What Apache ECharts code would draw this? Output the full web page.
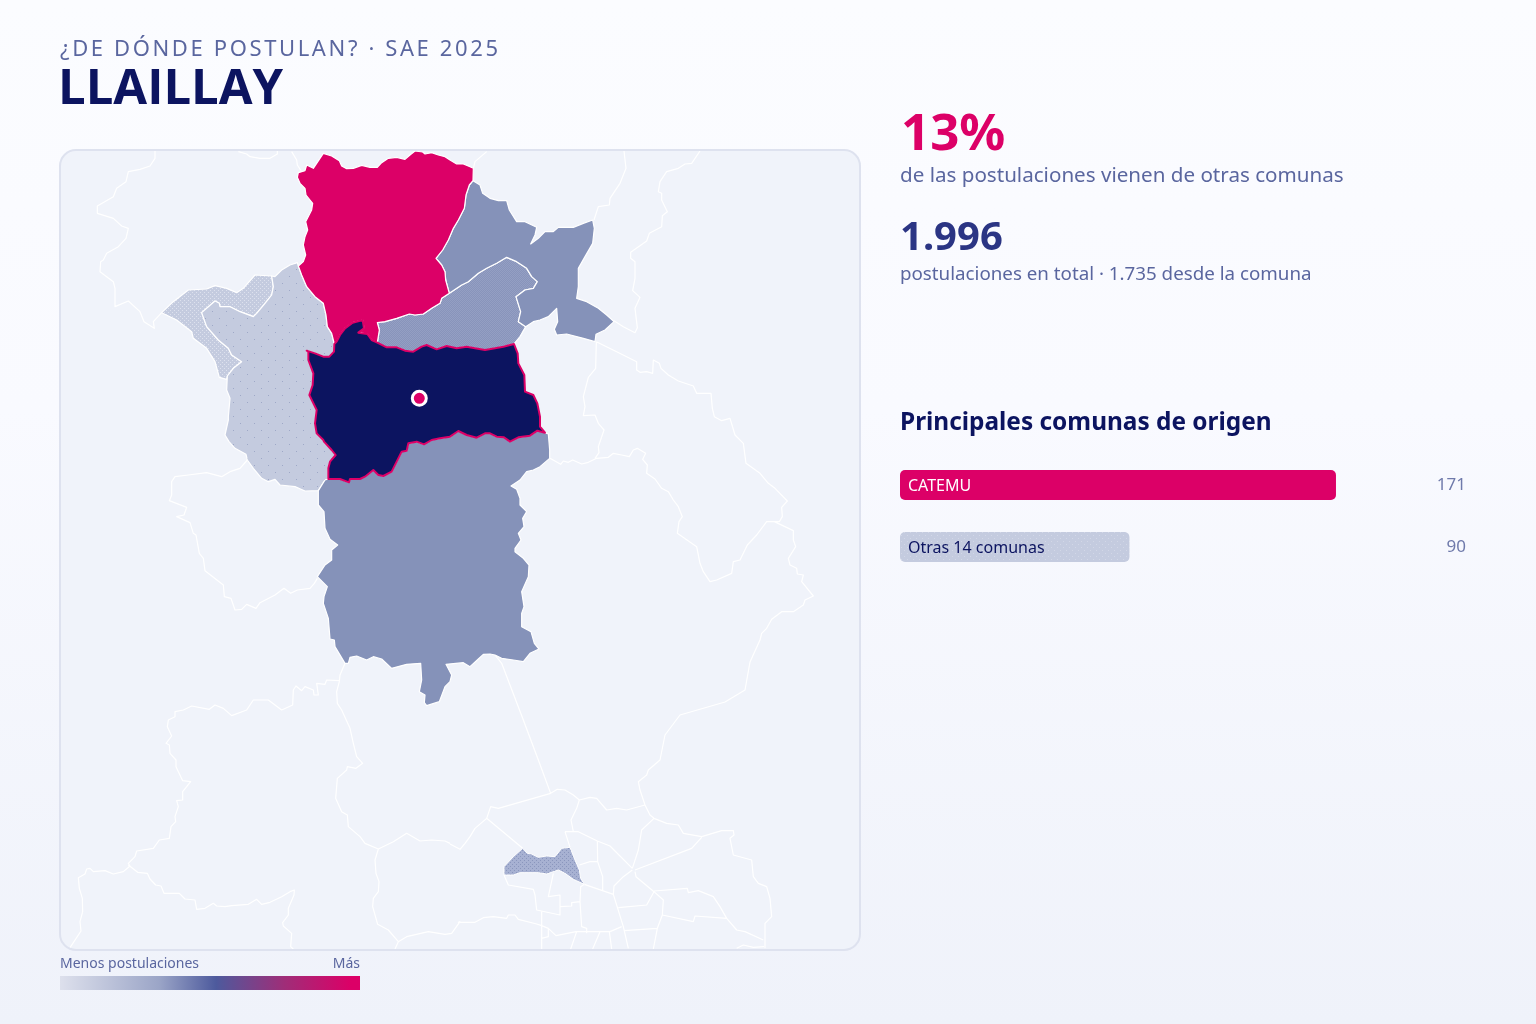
<!DOCTYPE html>
<html lang="es">
<head>
<meta charset="utf-8">
<title>¿De dónde postulan? · Llaillay</title>
<script src="https://cdn.jsdelivr.net/npm/echarts@6/dist/echarts.min.js"></script>
<style>
  html, body { margin: 0; padding: 0; }
  body { width: 1536px; height: 1024px; overflow: hidden; position: relative;
    background: linear-gradient(180deg, #fbfcff 0%, #f9faff 40%, #eff2fa 100%);
    font-family: "Noto Sans", sans-serif; }
  #chart { position: absolute; left: 0; top: 0; width: 1536px; height: 1024px; }
  #kicker { position: absolute; left: 60px; top: 31px; margin: 0; font-size: 22px; line-height: 32px;
    font-weight: 400; letter-spacing: 2.62px; color: #5a669f; white-space: nowrap; }
</style>
</head>
<body>
<div id="chart"></div>
<p id="kicker">¿DE DÓNDE POSTULAN? · SAE 2025</p>
<script>
// bar data
const comunas = ["CATEMU", "Otras 14 comunas"];
const postulaciones = [171, 90];
const llaillayMarker = [419.3, 398.3];

const crop = (ox, oy) => (pts) => pts.map((p) => [ox + p[0] / 3, oy + p[1] / 3]);
const z1 = crop(60, 140), z2 = crop(290, 140), z3 = crop(300, 420), z4 = crop(450, 760);
const z9 = crop(60, 650), z10 = crop(500, 300), z11 = crop(160, 420), z12 = crop(590, 145);
const rev = (pts) => pts.slice().reverse();

const catemuNorth = z2([[100,40],[125,48],[148,62],[155,78],[170,86],[190,85],[215,76],[240,82],[262,82],[275,68],[295,55],[320,52],[345,58],[360,45],[375,33],[398,36],[405,42],[425,38],[445,45],[465,50],[480,60],[500,72],[520,72],[540,80],[550,85]]);
const catemuEast = z2([[550,85],[549,122],[538,135],[528,165],[523,205],[505,240],[490,265],[475,300],[458,330],[438,355],[455,375],[465,395],[467,420],[478,460]]);
const catemuSouth = z2([[478,460],[455,475],[450,490],[425,505],[400,522],[375,525],[358,522],[320,535],[285,545],[262,548],[268,570],[262,608]]);
const llayNotch = z2([[262,608],[245,600],[232,582],[205,578],[222,565],[218,540],[188,548],[165,565],[150,585],[140,605],[133,612]]);
const catemuSouthWest = z2([[25,378],[35,405],[50,440],[75,470],[100,490],[108,525],[112,560],[125,580],[133,612]]);
const catemuWest = z2([[25,378],[40,365],[47,345],[40,315],[45,290],[53,270],[47,245],[65,210],[68,190],[48,165],[45,145],[30,130],[22,112],[25,98],[45,92],[50,75],[70,85],[80,70],[100,40]]);
const llayTopLeft = z2([[133,612],[132,635],[118,650],[100,650],[75,640],[50,632]]);
const llayWest = z1([[745,635],[745,660],[760,700],[758,735],[748,765],[770,810],[765,850],[770,880],[790,900]]).concat(z3([[72,65],[95,90],[107,105],[90,125],[85,145],[85,177]]));
const llaySouth = z3([[85,177],[120,177],[147,187],[150,177],[180,177],[195,170],[220,150],[235,165],[250,168],[275,155],[305,95],[320,92],[325,70],[350,65],[372,73],[395,60],[420,55],[450,50],[475,33],[500,45],[530,53],[555,40],[570,40],[590,50],[612,52],[630,65],[655,52],[690,47],[712,32],[735,38]]);
const llayEast = z2([[765,880],[750,860],[750,830],[742,790],[730,765],[705,755],[703,705],[685,670],[683,640],[672,612]]);
const llayNorth = z2([[672,612],[640,620],[615,625],[585,630],[555,625],[530,620],[500,625],[470,618],[440,628],[410,615],[395,620],[370,635],[345,632],[320,622],[290,622],[262,608]]);
const panqEast = z2([[672,612],[690,590],[707,560]]);
const panqNorth = z2([[707,560],[685,545],[692,515],[678,470],[705,450],[730,445],[742,425],[725,410],[710,385],[680,365],[650,352],[620,370],[590,385],[565,400],[535,425],[515,435],[478,460]]);
const neOuter = z2([[549,122],[570,135],[578,160],[600,175],[625,182],[650,182],[658,210],[680,245],[705,245],[740,262],[735,285],[722,312],[745,295],[765,275],[790,275],[805,262],[850,262],[880,250],[908,240],[913,265],[908,310],[885,350],[865,385],[865,440],[860,475],[890,485],[925,505],[950,525],[972,545],[945,570],[918,583],[915,605],[880,595],[830,582],[800,585],[793,568],[803,545],[800,505],[775,530],[750,540],[730,545],[707,560]]);
const southOuter = z3([[745,42],[749,90],[749,115],[720,140],[700,150],[680,155],[660,180],[633,198],[650,208],[660,235],[660,255],[680,275],[668,295],[672,320],[655,340],[663,360],[645,385],[645,395],[670,415],[687,435],[685,470],[665,515],[672,560],[665,580],[665,620],[693,635],[703,670],[717,687],[690,700],[670,725],[640,720],[605,715],[585,705],[570,702],[550,703],[535,717],[510,740],[490,728],[438,733],[455,765],[450,785],[435,800],[418,845],[380,857],[373,848],[375,825],[358,815],[365,780],[362,730],[320,733],[275,745],[245,717],[220,710],[200,720],[170,708],[150,712],[145,730],[135,730],[105,680],[103,660],[90,657],[85,595],[70,550],[72,530],[82,500],[52,470],[75,435],[95,420],[95,390],[113,375],[90,358],[75,325],[72,275],[55,255],[55,212],[75,180]]);
const grayShared = z1([[635,408],[640,440],[635,465],[615,490],[590,520],[580,530],[540,515],[510,500],[480,500],[478,490],[465,483],[425,518],[440,560],[475,600],[505,625],[515,645],[545,665],[520,685],[502,708]]);
const grayWest = z3([[75,180],[55,212]]).concat(z11([[435,213],[405,200],[360,195],[345,178],[325,185],[305,175],[280,145],[262,120],[258,103],[225,85],[207,65],[195,45],[205,0]]), z1([[505,830],[510,775],[500,750]]));
const grayNorth = z1([[635,408],[645,410],[665,390],[690,375],[712,368]]);
const thinNorth = z1([[305,518],[340,485],[385,450],[440,447],[465,437],[500,445],[530,458],[550,445],[585,405],[635,408]]);
const thinSouth = z1([[502,708],[500,718],[478,712],[465,665],[440,625],[400,595],[395,575],[350,540],[305,518]]);
const lampaRing = z4([[162,320],[190,290],[218,265],[232,280],[245,282],[265,292],[290,288],[315,290],[335,265],[360,262],[375,300],[388,330],[392,355],[403,373],[370,358],[345,340],[325,330],[290,342],[265,338],[210,338],[190,345],[162,345]]);

// thin white borders of the comunas that got no colour
const contextLines = [
  z1([[285,32],[285,55],[270,78],[240,88],[205,95],[198,125],[170,145],[160,170],[112,198],[112,220],[160,235],[185,258],[205,265],[198,295],[175,320],[140,340],[130,360],[122,365],[120,395],[160,425],[165,445],[165,500],[205,483],[240,515],[252,545],[283,565],[280,545],[305,518]]),
  z1([[535,35],[560,42],[570,50],[600,55],[630,55],[652,42],[652,32]]),
  z1([[695,35],[710,60],[712,75],[725,95]]),
  z2([[550,85],[555,65],[590,35]]),
  z12([[102,18],[108,70],[90,115],[60,160],[58,180],[25,185],[12,225]]),
  z12([[72,527],[100,545],[135,563],[142,548],[135,490],[150,457],[128,437],[135,400],[135,350],[122,340],[122,322],[170,288],[178,265],[215,245],[217,212],[232,200],[215,165],[215,145],[205,140],[210,110],[230,80],[265,70],[285,57],[305,55],[330,18]]),
  z10([[289,125],[350,155],[410,185],[410,210],[420,217],[440,215],[458,220],[460,180],[478,190],[483,205],[505,225],[535,243],[580,258],[590,280],[633,280],[637,325],[643,350],[665,362],[690,355],[705,405],[730,430],[738,490],[780,520],[805,550],[825,565],[862,603],[845,622],[847,650],[838,665],[823,665],[880,692],[880,720],[887,740],[865,775],[870,795],[890,805],[892,822],[910,825],[905,845],[940,888],[915,900],[910,915],[880,935],[845,935],[815,958],[800,985],[785,1000],[780,1020]]),
  z10([[289,125],[287,205],[265,232],[250,290],[255,320],[250,347],[285,345],[295,370],[312,390],[295,440],[297,458],[285,475]]),
  z10([[150,475],[182,493],[190,483],[205,487],[218,480],[245,492],[265,487],[290,475],[325,472],[340,460],[365,465],[388,470],[400,450],[412,445],[437,460],[428,478],[442,495],[440,520],[465,537],[485,565],[505,575],[520,600],[535,620],[547,650],[537,665],[532,700],[590,740],[600,790],[610,815],[630,845],[650,840],[695,820],[700,785],[720,780],[742,735],[770,705],[800,665],[823,665]]),
  [[760,640],[750,662],[745,690],[725,702],[680,715],[665,735]].concat(z4([[630,0],[595,30],[590,45],[565,65],[570,90],[585,135]])),
  z11([[262,120],[240,145],[210,155],[185,170],[140,158],[85,165],[45,170],[35,185],[35,225],[28,242],[80,262],[72,285],[50,290],[90,308],[100,340],[108,345],[118,400],[130,415],[135,452],[190,495],[193,530],[213,535],[225,570],[245,568],[260,553],[288,565],[300,548],[345,525],[372,505],[392,520],[412,510],[450,505],[463,490],[472,475]]),
  z3([[585,705],[605,730],[670,900]]).concat(z4([[265,0],[302,100]])),
  z4([[110,175],[122,140],[145,145],[302,100],[322,88],[345,90],[370,105],[388,120],[420,112],[440,115],[470,150],[500,145],[530,150],[585,135],[600,165],[612,175],[650,190],[685,195],[700,220],[755,230],[815,212],[850,212],[852,225],[840,235],[850,285],[905,300],[910,350],[925,370],[950,380],[960,415],[965,470],[945,490],[945,565]]),
  z4([[110,175],[75,205],[60,230],[45,250],[30,268],[0,252]]),
  z9([[855,40],[840,75],[838,95],[830,125],[832,160],[845,180],[870,235],[880,280],[890,320],[908,340],[888,355],[862,350],[860,360],[832,385],[827,445],[845,485],[862,495],[865,530],[900,560],[915,580],[955,597],[1000,575],[1040,550],[1080,573],[1115,570],[1155,573],[1170,580]]),
  z9([[838,92],[800,90],[795,103],[770,100],[775,135],[762,135],[760,120],[735,110],[725,122],[708,108],[700,120],[698,165],[665,180],[625,150],[580,150],[560,180],[515,197],[490,175],[465,165],[448,178],[395,168],[370,180],[345,185],[345,200],[325,210],[322,230],[335,258],[318,280],[328,285],[330,310],[348,330],[348,350],[368,392],[392,395],[368,425],[368,450],[350,452],[355,470],[345,500],[347,515],[333,530],[328,565],[298,570],[280,595],[230,603],[225,620],[205,640],[210,648],[190,665],[160,672],[135,662],[100,665],[90,655],[80,657],[75,672],[55,683],[58,715],[67,745],[68,785],[60,815],[63,843],[30,893]]),
  z9([[205,645],[233,667],[262,670],[270,687],[287,705],[303,708],[312,730],[358,730],[375,747],[405,750],[410,778],[435,775],[460,760],[470,768],[495,770],[515,767],[565,763],[590,748],[605,763],[630,757],[665,740],[690,725],[703,720],[702,735],[685,775],[685,795],[668,818],[670,828],[695,850],[692,890],[700,897]]),
  z9([[955,597],[945,630],[948,670],[957,695],[955,725],[940,745],[938,770],[953,823],[985,840],[1015,875],[1005,897]]),
  z9([[1015,875],[1040,860],[1105,845],[1155,853],[1175,850],[1200,815]]).concat(z4([[25,487],[75,487],[100,473],[130,470],[170,475],[175,465],[195,465],[205,478],[260,492],[275,497],[295,505],[318,527],[378,515],[480,515],[515,500]])),
  z4([[162,345],[175,375],[250,388],[255,405],[260,450],[330,465],[330,405],[295,410],[310,340]]),
  z4([[275,455],[275,497],[275,567]]),
  z4([[295,505],[295,530],[275,535]]),
  z4([[330,440],[365,438],[365,428],[390,425],[392,380],[403,373]]),
  z4([[390,425],[395,500],[410,505],[410,520]]),
  z4([[403,373],[490,403],[520,500],[535,565]]),
  z4([[345,215],[385,215],[442,243],[480,258],[547,325]]),
  z4([[442,243],[443,305],[458,350],[458,390]]),
  z4([[388,315],[420,305],[443,305]]),
  z4([[547,325],[565,270],[575,210],[612,175]]),
  z4([[547,330],[520,350],[492,378],[490,403]]),
  z4([[555,330],[725,265],[755,232]]),
  z4([[555,335],[558,350],[612,395],[590,435],[505,443]]),
  z4([[612,395],[640,420],[637,465],[622,505],[522,512]]),
  z4([[622,505],[610,567]]),
  z4([[612,393],[712,385],[715,398],[745,392],[790,410],[810,440],[830,475],[735,468],[730,485],[637,465]]),
  z4([[830,475],[860,510],[885,515],[940,540]]),
  z4([[380,515],[362,567]]), z4([[450,515],[428,567]]), z4([[478,515],[485,567]]),
  z4([[345,215],[360,262]]),
  z4([[388,120],[380,145],[363,180],[370,215]]),
  z4([[110,175],[218,265]]),
  z4([[860,565],[880,555],[910,562],[942,560]]),
];

const polygons = {
  Puchuncavi: thinNorth.concat(grayShared, thinSouth),
  Putaendo: z2([[25,378]]).concat(rev(grayNorth), grayShared, rev(grayWest), rev(llayWest), rev(llayTopLeft), rev(catemuSouthWest)),
  Lampa: lampaRing,
  Til: llaySouth.concat(southOuter),
  Panquehue: catemuSouth.concat(rev(llayNorth), panqEast, panqNorth),
  SanFelipe: neOuter.concat(panqNorth, rev(catemuEast).slice(0, -1)),
  Catemu: catemuNorth.concat(catemuEast, catemuSouth, llayNotch, rev(catemuSouthWest), catemuWest),
  Llaillay: llayNotch.concat(llayTopLeft, llayWest, llaySouth, llayEast, llayNorth),
};

function closeRing(ring) {
  return ring.concat([ring[0]]);
}

const mapGeo = {
  type: "FeatureCollection",
  features: [
    { type: "Feature", properties: { name: "contexto" }, geometry: { type: "MultiLineString", coordinates: contextLines } },
  ].concat(Object.keys(polygons).map((name) => ({
    type: "Feature",
    properties: { name: name },
    geometry: { type: "Polygon", coordinates: [closeRing(polygons[name])] },
  }))),
};
echarts.registerMap("aconcagua", mapGeo);

// the dotted fills of the light colour steps
function dots(size, base, dot, points) {
  const c = document.createElement("canvas");
  c.width = size;
  c.height = size;
  const ctx = c.getContext("2d");
  ctx.fillStyle = base;
  ctx.fillRect(0, 0, size, size);
  ctx.fillStyle = dot;
  points.forEach((p) => ctx.fillRect(p[0], p[1], 1, 1));
  return { image: c, repeat: "repeat" };
}
const wideDots = dots(14, "#c4cbdf", "#9ea8c7", [[2, 3], [9, 10]]);
const whiteDots = dots(4, "#c4cbdf", "#dde1ee", [[0, 0], [2, 2]]);
const fineDots = dots(2, "#8894bb", "#949fc3", [[0, 0], [1, 1]]);
const lampaDots = dots(4, "#a7b1d2", "#8a96bd", [[0, 0], [2, 2]]);
const barDots = dots(6, "#c4cbdf", "#d2d7e7", [[1, 1], [4, 4]]);

const region = (name, fill, stroke, width) => ({
  name: name,
  itemStyle: { areaColor: fill, borderColor: stroke, borderWidth: width, borderJoin: "round" },
});

const muted = "#5a669f";
const label = (x, y, text, font, fill, align) => ({
  type: "text", x: x, y: y, z: 20, silent: true,
  style: { text: text, font: font, fill: fill, align: align || "left", verticalAlign: "middle" },
});

const myChart = echarts.init(document.getElementById("chart"));
myChart.setOption({
  animation: false,
  tooltip: { show: false },
  graphic: [
    { type: "rect", z: -1, silent: true, shape: { x: 60, y: 150, width: 800, height: 800, r: 16 }, style: { fill: "#f0f3fa" } },
    { type: "rect", z: 10, silent: true, shape: { x: 60, y: 150, width: 800, height: 800, r: 16 }, style: { fill: "none", stroke: "#dee2ef", lineWidth: 2 } },
    label(58, 90, "LLAILLAY", "700 49px 'Open Sans'", "#0c1460"),
    label(901, 135, "13%", "700 51px 'Noto Sans'", "#dc0067"),
    label(900, 176, "de las postulaciones vienen de otras comunas", "400 20.6px 'Noto Sans'", muted),
    label(900, 239, "1.996", "700 40px 'Noto Sans'", "#2b3584"),
    label(900, 275, "postulaciones en total · 1.735 desde la comuna", "400 18.75px 'Noto Sans'", muted),
    label(900, 423, "Principales comunas de origen", "700 24.4px 'Noto Sans'", "#0c1460"),
    label(60, 964, "Menos postulaciones", "400 14px 'Noto Sans'", muted),
    label(360, 964, "Más", "400 14px 'Noto Sans'", muted, "right"),
    {
      type: "rect", z: 5, silent: true,
      shape: { x: 60, y: 976, width: 300, height: 14 },
      style: {
        fill: new echarts.graphic.LinearGradient(0, 0, 1, 0, [
          { offset: 0, color: "#dde0ec" },
          { offset: 0.33, color: "#9ba5c7" },
          { offset: 0.52, color: "#4d5a9d" },
          { offset: 0.75, color: "#a02d78" },
          { offset: 0.97, color: "#dc0067" },
          { offset: 1, color: "#dc0067" },
        ]),
      },
    },
  ],
  geo: {
    map: "aconcagua",
    silent: true,
    roam: false,
    left: 60,
    top: 150,
    width: 800,
    height: 800,
    aspectScale: 1,
    boundingCoords: [[60, 150], [860, 950]],
    projection: { project: (p) => p, unproject: (p) => p },
    label: { show: false },
    itemStyle: { areaColor: "none", borderColor: "#ffffff", borderWidth: 1.2 },
    regions: [
      region("contexto", "none", "#ffffff", 1.2),
      region("Puchuncavi", whiteDots, "#ffffff", 1.2),
      region("Putaendo", wideDots, "#ffffff", 1.2),
      region("Lampa", lampaDots, "#ffffff", 1),
      region("Til", "#8592b9", "#ffffff", 1.2),
      region("Panquehue", fineDots, "#ffffff", 1.2),
      region("SanFelipe", "#8592b9", "#ffffff", 1.2),
      region("Catemu", "#dc0067", "#ffffff", 1.2),
      region("Llaillay", "#0c1460", "#dc0067", 2),
    ],
  },
  grid: { left: 900, top: 454, width: 566, height: 124, containLabel: false },
  xAxis: { type: "value", min: 0, max: 222, show: false },
  yAxis: [
    {
      type: "category",
      inverse: true,
      data: comunas,
      axisLine: { show: false },
      axisTick: { show: false },
      axisLabel: { show: false },
    },
    {
      type: "category",
      inverse: true,
      position: "right",
      data: postulaciones.map(String),
      axisLine: { show: false },
      axisTick: { show: false },
      axisLabel: { inside: true, margin: 0, padding: [2, 0, 0, 0], fontFamily: "Noto Sans", fontSize: 17, color: "#6f7aab" },
    },
  ],
  series: [
    {
      type: "scatter",
      coordinateSystem: "geo",
      data: [llaillayMarker],
      symbolSize: 14,
      silent: true,
      itemStyle: { color: "#dc0067", borderColor: "#ffffff", borderWidth: 3, opacity: 1 },
      z: 6,
    },
    {
      type: "bar",
      barWidth: 30,
      silent: true,
      data: postulaciones.map((v, i) => ({
        value: v,
        itemStyle: { color: i === 0 ? "#dc0067" : barDots, borderRadius: 5 },
        label: { color: i === 0 ? "#ffffff" : "#0c1460" },
      })),
      label: {
        show: true,
        position: "insideLeft",
        distance: 8,
        offset: [0, 1],
        fontFamily: "Noto Sans",
        fontSize: 16,
        formatter: (p) => comunas[p.dataIndex],
      },
    },
  ],
});
window.addEventListener("resize", () => {
  myChart.resize();
});
</script>
</body>
</html>
